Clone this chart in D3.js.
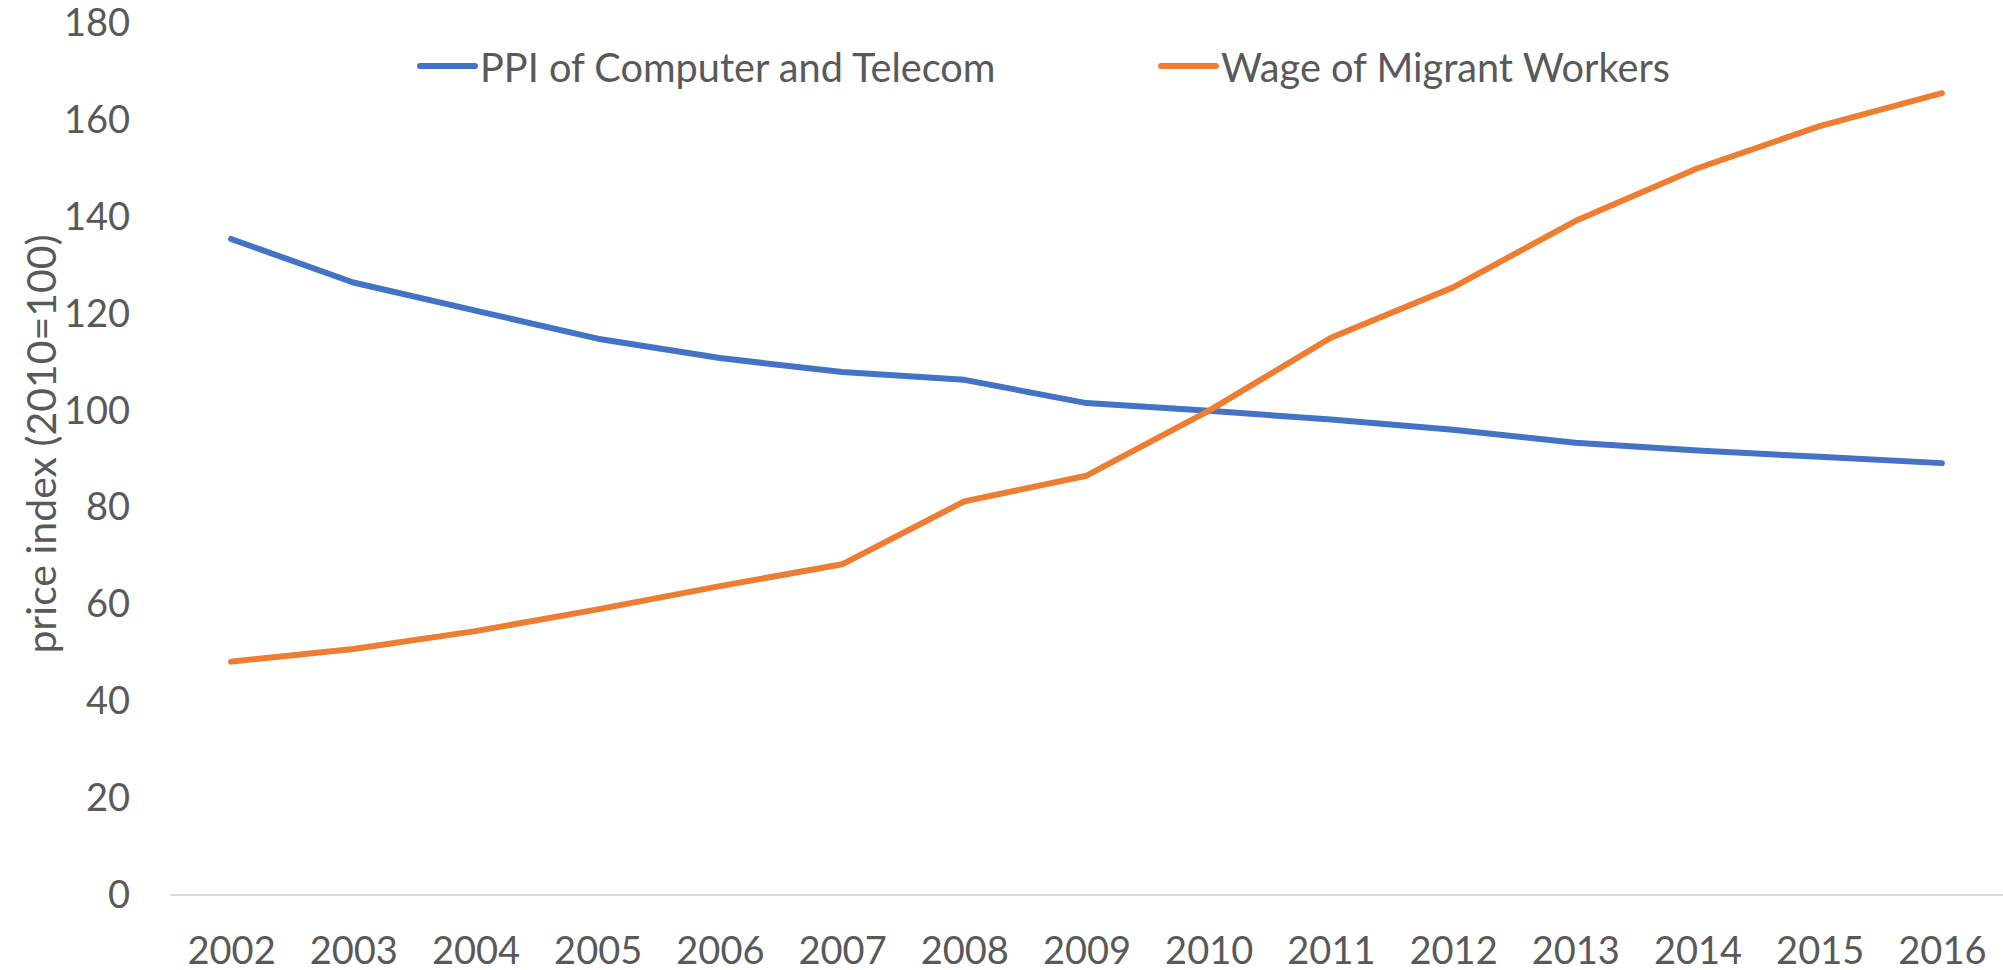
<!DOCTYPE html>
<html>
<head>
<meta charset="utf-8">
<script src="https://cdn.jsdelivr.net/npm/d3@7"></script>
<style>
  html, body { margin: 0; padding: 0; background: #fff; }
  svg { display: block; font-family: Lato, "Liberation Sans", sans-serif; }
</style>
</head>
<body>
<svg width="2003" height="970"></svg>
<script>
// data
const years = ["2002", "2003", "2004", "2005", "2006", "2007", "2008", "2009",
  "2010", "2011", "2012", "2013", "2014", "2015", "2016"];
const ppiValues = [135.5, 126.5, 120.7, 114.9, 110.9, 108.0, 106.4, 101.6,
  100.0, 98.2, 96.1, 93.4, 91.8, 90.5, 89.2];
const wageValues = [48.2, 50.8, 54.5, 59.0, 63.8, 68.3, 81.3, 86.6,
  100.0, 115.1, 125.5, 139.2, 150.1, 158.8, 165.6];
const yTicks = [0, 20, 40, 60, 80, 100, 120, 140, 160, 180];
const seriesNames = ["PPI of Computer and Telecom", "Wage of Migrant Workers"];
const seriesColors = ["#4472C4", "#ED7D31"];

const series = [
  { name: seriesNames[0], color: seriesColors[0], values: ppiValues },
  { name: seriesNames[1], color: seriesColors[1], values: wageValues }
];

const textColor = "#595959";
const svg = d3.select("svg");

// prettier-ignore
const xScale = d3.scalePoint()
    .domain(years)
    .range([170, 2003])
    .padding(0.5)

// prettier-ignore
const yScale = d3.scaleLinear()
    .domain([0, 180])
    .range([895, 23.5])

// y axis labels, no gridlines except the baseline
// prettier-ignore
const yAxis = svg.append("g")
    .attr("transform", "translate(130,0)")
    .call(d3.axisLeft(yScale).tickValues(yTicks).tickSize(0).tickPadding(0))

yAxis.select(".domain").remove();
yAxis.selectAll("text")
  .attr("fill", textColor)
  .attr("font-size", 38)
  .attr("font-family", "Lato, sans-serif");

// baseline
// prettier-ignore
svg.append("line")
    .attr("x1", 170)
    .attr("x2", 2003)
    .attr("y1", yScale(0))
    .attr("y2", yScale(0))
    .attr("stroke", "#D9D9D9")
    .attr("stroke-width", 2)

// x axis labels
// prettier-ignore
const xAxis = svg.append("g")
    .attr("transform", `translate(0,${yScale(0)})`)
    .call(d3.axisBottom(xScale).tickSize(0).tickPadding(42))

xAxis.select(".domain").remove();
xAxis.selectAll("text")
  .attr("fill", textColor)
  .attr("font-size", 38)
  .attr("font-family", "Lato, sans-serif");

// y axis title
// prettier-ignore
svg.append("text")
    .attr("transform", "translate(40,444) rotate(-90)")
    .attr("text-anchor", "middle")
    .attr("dominant-baseline", "central")
    .attr("fill", textColor)
    .attr("font-size", 41)
    .text("price index (2010=100)")

// lines
// prettier-ignore
const line = d3.line()
    .x((d, i) => xScale(years[i]))
    .y(d => yScale(d))

// prettier-ignore
svg.append("g")
    .selectAll("path")
    .data(series)
    .join("path")
    .attr("d", d => line(d.values))
    .attr("fill", "none")
    .attr("stroke", d => d.color)
    .attr("stroke-width", 6)
    .attr("stroke-linejoin", "round")
    .attr("stroke-linecap", "round")

// legend
const legendX = [420, 1161];

// prettier-ignore
const legend = svg.append("g")
    .selectAll("g")
    .data(series)
    .join("g")
    .attr("transform", (d, i) => `translate(${legendX[i]},66)`)

// prettier-ignore
legend.append("line")
    .attr("x1", 0)
    .attr("x2", 55)
    .attr("stroke", d => d.color)
    .attr("stroke-width", 6)
    .attr("stroke-linecap", "round")

// prettier-ignore
legend.append("text")
    .attr("x", 60)
    .attr("dominant-baseline", "central")
    .attr("fill", textColor)
    .attr("font-size", 39.7)
    .text(d => d.name)
</script>
</body>
</html>
